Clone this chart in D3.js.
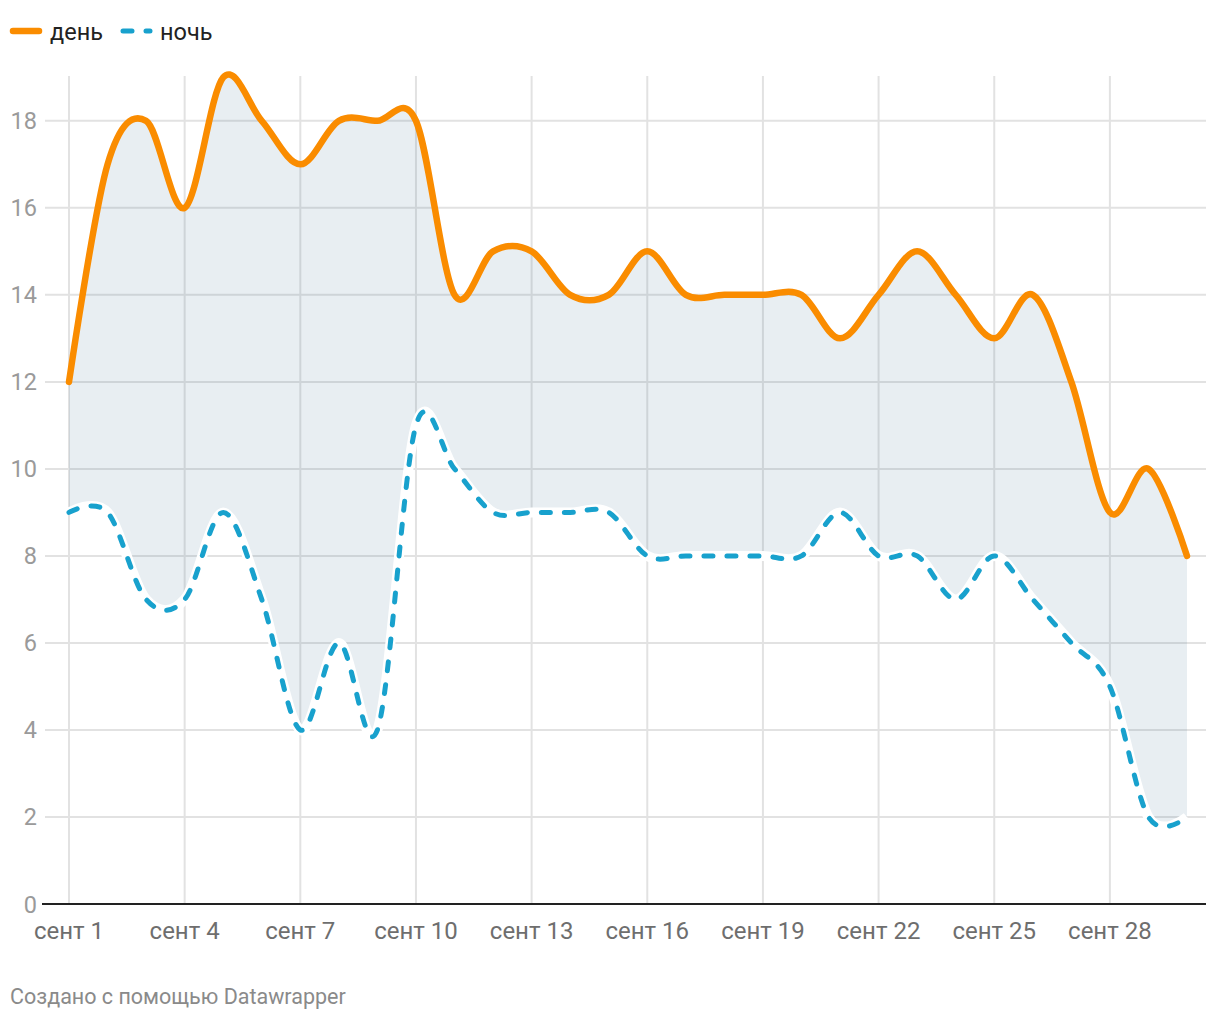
<!DOCTYPE html>
<html>
<head>
<meta charset="utf-8">
<script src="https://cdn.jsdelivr.net/npm/d3@7"></script>
<style>
  html, body { margin: 0; padding: 0; background: #fff; }
  svg { display: block; font-family: Roboto, "Noto Sans", sans-serif; }
</style>
</head>
<body>
<svg id="chart" width="1220" height="1020"></svg>
<script>
const days = d3.range(1, 31);
const dayTemps = [12, 17, 18, 16, 19, 18, 17, 18, 18, 18, 14, 15, 15, 14, 14, 15, 14, 14, 14, 14, 13, 14, 15, 14, 13, 14, 12, 9, 10, 8];
const nightTemps = [9, 9, 7, 7, 9, 7, 4, 6, 4, 11, 10, 9, 9, 9, 9, 8, 8, 8, 8, 8, 9, 8, 8, 7, 8, 7, 6, 5, 2, 2];
const xTickDays = [1, 4, 7, 10, 13, 16, 19, 22, 25, 28];
const yTicks = [0, 2, 4, 6, 8, 10, 12, 14, 16, 18];
const seriesNames = ["день", "ночь"];
const monthLabel = "сент";
const footer = "Создано с помощью Datawrapper";

const svg = d3.select("#chart");
const x = d3.scaleLinear().domain([1, 30]).range([69, 1187]);
const y = d3.scaleLinear().domain([0, 19.03]).range([904, 76]);
const curve = d3.curveCardinal.tension(0);

const data = days.map((d, i) => ({ d, day: dayTemps[i], night: nightTemps[i] }));

// horizontal grid
svg.append("g").selectAll("line").data(yTicks.filter(t => t > 0)).join("line")
  .attr("x1", 45).attr("x2", 1206)
  .attr("y1", d => y(d)).attr("y2", d => y(d))
  .attr("stroke", "#e2e2e2").attr("stroke-width", 2);
// vertical grid
svg.append("g").selectAll("line").data(xTickDays).join("line")
  .attr("x1", d => x(d)).attr("x2", d => x(d))
  .attr("y1", 76).attr("y2", 904)
  .attr("stroke", "#e2e2e2").attr("stroke-width", 2);

// y labels
svg.append("g").selectAll("text").data(yTicks).join("text")
  .attr("x", 37).attr("y", d => y(d) + 8.5)
  .attr("text-anchor", "end")
  .attr("font-size", 23.5).attr("fill", "#9a9a9a")
  .text(d => d);

// area between
const area = d3.area().x(d => x(d.d)).y0(d => y(d.night)).y1(d => y(d.day)).curve(curve);
svg.append("path").datum(data).attr("d", area)
  .attr("fill", "#4f7a9c").attr("fill-opacity", 0.13);

// baseline
svg.append("line").attr("x1", 42).attr("x2", 1206).attr("y1", 904).attr("y2", 904)
  .attr("stroke", "#222").attr("stroke-width", 2);

// x labels
svg.append("g").selectAll("text").data(xTickDays).join("text")
  .attr("x", d => x(d)).attr("y", 939)
  .attr("text-anchor", "middle")
  .attr("font-size", 24).attr("fill", "#6e6e6e")
  .text(d => monthLabel + " " + d);

// day line
const lineDay = d3.line().x(d => x(d.d)).y(d => y(d.day)).curve(curve);
svg.append("path").datum(data).attr("d", lineDay)
  .attr("fill", "none").attr("stroke", "#fa8c00").attr("stroke-width", 6.5)
  .attr("stroke-linecap", "round").attr("stroke-linejoin", "round");

// night line with halo
const lineNight = d3.line().x(d => x(d.d)).y(d => y(d.night)).curve(curve);
svg.append("path").datum(data).attr("d", lineNight)
  .attr("fill", "none").attr("stroke", "#fff").attr("stroke-width", 10)
  .attr("stroke-linejoin", "round");
svg.append("path").datum(data).attr("d", lineNight)
  .attr("fill", "none").attr("stroke", "#18a1cd").attr("stroke-width", 5)
  .attr("stroke-dasharray", "9,14")
  .attr("stroke-linecap", "round").attr("stroke-linejoin", "round");

// legend
const lg = svg.append("g");
lg.append("line").attr("x1", 13).attr("x2", 39).attr("y1", 31).attr("y2", 31)
  .attr("stroke", "#fa8c00").attr("stroke-width", 6.5).attr("stroke-linecap", "round");
lg.append("text").attr("x", 50).attr("y", 40).attr("font-size", 23.5).attr("fill", "#222").text(seriesNames[0]);
lg.append("line").attr("x1", 123).attr("x2", 150).attr("y1", 31).attr("y2", 31)
  .attr("stroke", "#18a1cd").attr("stroke-width", 5).attr("stroke-linecap", "round")
  .attr("stroke-dasharray", "9,14");
lg.append("text").attr("x", 160).attr("y", 40).attr("font-size", 23.5).attr("fill", "#222").text(seriesNames[1]);

// footer
svg.append("text").attr("x", 10).attr("y", 1004).attr("font-size", 21.5).attr("fill", "#8a8a8a").text(footer);
</script>
</body>
</html>
